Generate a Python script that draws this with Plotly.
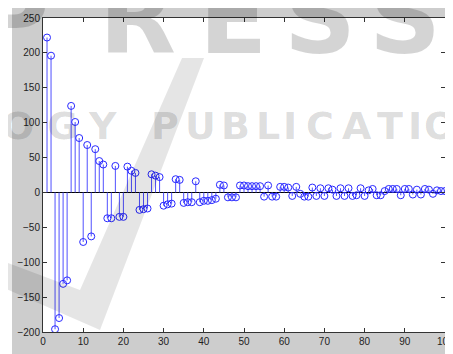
import plotly.graph_objects as go

# ---- data ----
n = list(range(1, 101))
values = [222, 196, -196, -180, -131, -126, 124, 101, 78, -71,
          68, -63, 62, 45, 40, -37, -37, 38, -35, -35,
          37, 31, 28, -25, -24, -23, 26, 24, 22, -19,
          -17, -16, 19, 18, -15, -14, -14, 16, -14, -12,
          -12, -11, -9, 11, 10, -7, -7, -7, 10, 10,
          9, 9, 9, 9, -6, 10, -6, -6, 8, 8,
          7, -5, 8, -2, -6, -6, 7, -5, 6, -5,
          6, 4, -5, 6, -5, 6, -5, -4, 6, -5,
          3, 5, -4, -4, 2, 5, 5, 5, -4, 5,
          5, -3, 4, -3, 5, 4, -2, 3, 2, 2]
x_ticks = [0, 10, 20, 30, 40, 50, 60, 70, 80, 90, 100]
x_labels = ["0", "10", "20", "30", "40", "50", "60", "70", "80", "90", "100"]
y_ticks = [-200, -150, -100, -50, 0, 50, 100, 150, 200, 250]

# the page body has an 8px margin, so the figure starts at (8, 8)
OFF = 8
PAGE_W, PAGE_H = 453, 354
W, H = PAGE_W - OFF, PAGE_H - OFF
# plot area in page pixels
PL, PR, PT, PB = 43, 445, 18, 332
L, R, T, B = PL - OFF, PAGE_W - PR, PT - OFF, PAGE_H - PB
pw, ph = PR - PL, PB - PT

def px(xp):
    return (xp - PL) / pw

def py(yp):
    return (PB - yp) / ph

# stems
sx, sy = [], []
for xi, vi in zip(n, values):
    sx += [xi, xi, None]
    sy += [0, vi, None]

fig = go.Figure()
fig.add_trace(go.Scatter(x=sx, y=sy, mode="lines",
                         line=dict(color="rgb(80,80,255)", width=1),
                         hoverinfo="skip", showlegend=False))
fig.add_trace(go.Scatter(x=n, y=values, mode="markers",
                         marker=dict(symbol="circle-open", size=7, color="rgb(40,40,255)",
                                     line=dict(width=1)),
                         showlegend=False))

shapes = []
# white strip at the left of the gray figure
shapes.append(dict(type="rect", xref="paper", yref="paper", layer="below",
                   x0=px(0), x1=px(12), y0=py(-5), y1=py(PAGE_H + 5),
                   fillcolor="white", line=dict(width=0)))
# watermark swoosh
pts = [(-5, 258), (80, 290), (182, 58), (204, 58), (100, 330), (-5, 284)]
path = "M " + " L ".join(f"{px(a):.4f},{py(b):.4f}" for a, b in pts) + " Z"
shapes.append(dict(type="path", xref="paper", yref="paper", layer="above",
                   path=path, fillcolor="rgba(0,0,0,0.1)", line=dict(width=0)))

annotations = []
wm_font = "DejaVu Sans"
for ch, cx in zip("PRESS", [12, 137, 233, 320, 405]):
    annotations.append(dict(text=f"<b>{ch}</b>", x=px(cx), y=py(18), xref="paper", yref="paper",
                            showarrow=False, xanchor="center", yanchor="middle",
                            font=dict(family=wm_font, size=100, color="rgba(0,0,0,0.17)")))
for ch, cx in zip("OGYPUBLICATIO", [18, 62, 102, 165, 200, 235, 268, 290, 320, 357, 390, 415, 440]):
    annotations.append(dict(text=f"<b>{ch}</b>", x=px(cx), y=py(126), xref="paper", yref="paper",
                            showarrow=False, xanchor="center", yanchor="middle",
                            font=dict(family=wm_font, size=38, color="rgba(0,0,0,0.14)")))
# last x tick label, which runs past the right edge in the reference
annotations.append(dict(text=x_labels[-1], x=x_ticks[-1], y=0, xref="x", yref="paper",
                        showarrow=False, xanchor="center", yanchor="top", yshift=-2,
                        font=dict(family="Liberation Sans, Arial", size=10, color="#222")))

axis_common = dict(showgrid=False, showline=True, linecolor="#333", linewidth=1,
                   mirror="ticks", ticks="inside", ticklen=4, tickcolor="#333",
                   automargin=False,
                   tickfont=dict(family="Liberation Sans, Arial", size=10, color="#222"))

fig.update_layout(
    width=W, height=H,
    margin=dict(l=L, r=R, t=T, b=B, autoexpand=False),
    paper_bgcolor="#cdcdcd", plot_bgcolor="white",
    shapes=shapes, annotations=annotations,
    xaxis=dict(range=[0, 100], tickvals=x_ticks, ticktext=x_labels[:-1] + [""],
               zeroline=False, **axis_common),
    yaxis=dict(range=[-200, 250], tickvals=y_ticks, zeroline=True,
               zerolinecolor="black", zerolinewidth=1, **axis_common),
)

fig.write_html("out.html")
